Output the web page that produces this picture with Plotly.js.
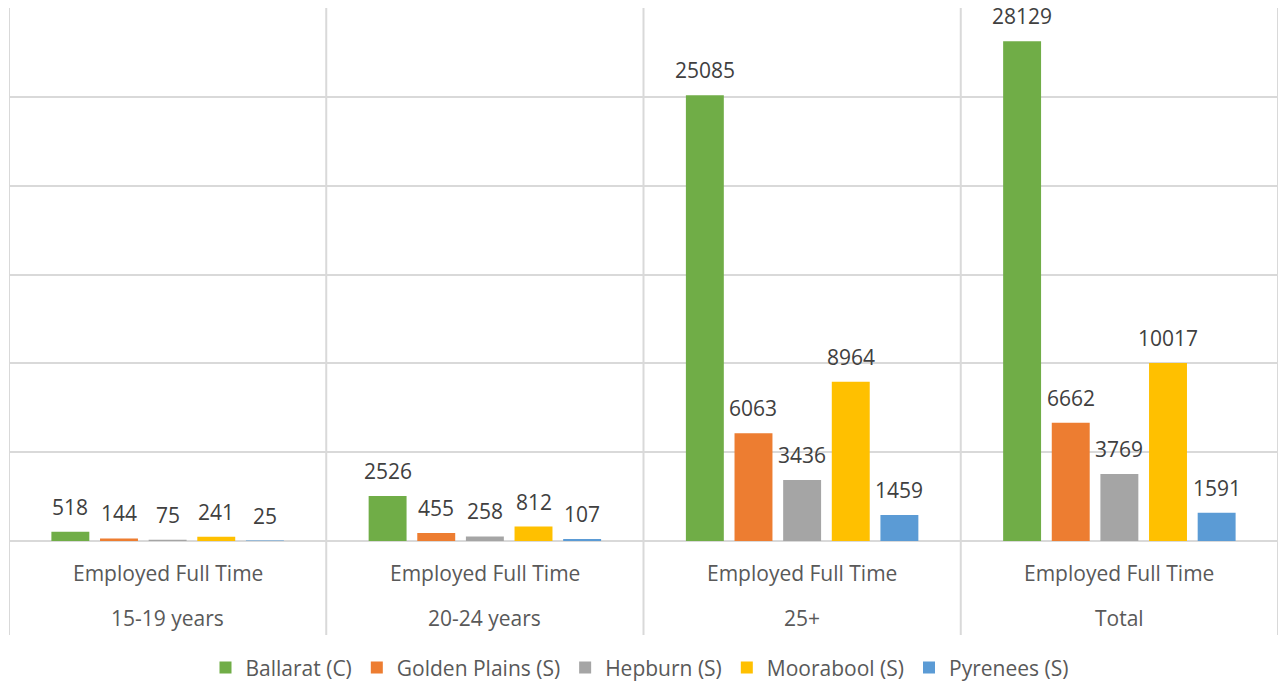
<!DOCTYPE html>
<html>
<head>
<meta charset="utf-8">
<script src="https://cdn.plot.ly/plotly-3.0.1.min.js"></script>
<style>html,body{margin:0;padding:0;background:#fff;}#chart{width:1279px;height:685px;}</style>
</head>
<body>
<div id="chart"></div>
<script>
const categories = ["15-19 years", "20-24 years", "25+", "Total"];
const topLabel = "Employed Full Time";
const seriesNames = ["Ballarat (C)", "Golden Plains (S)", "Hepburn (S)", "Moorabool (S)", "Pyrenees (S)"];
const ballarat = [518, 2526, 25085, 28129];
const goldenPlains = [144, 455, 6063, 6662];
const hepburn = [75, 258, 3436, 3769];
const moorabool = [241, 812, 8964, 10017];
const pyrenees = [25, 107, 1459, 1591];
const colors = ["#70AD47", "#ED7D31", "#A5A5A5", "#FFC000", "#5B9BD5"];

const values = [ballarat, goldenPlains, hepburn, moorabool, pyrenees];
const xIdx = categories.map((c, i) => i);
const font = "Open Sans, sans-serif";
const bargap = 0.2335;
const bargroupgap = 0.22;
const nSeries = values.length;
const slot = (1 - bargap) / nSeries;

const traces = values.map((v, k) => ({
  type: "bar",
  name: seriesNames[k],
  x: xIdx,
  y: v,
  marker: {color: colors[k]},
  hoverinfo: "name+y"
}));

const annotations = [];
values.forEach((v, k) => {
  v.forEach((val, i) => {
    annotations.push({x: i + (k - (nSeries - 1) / 2) * slot, xref: "x", y: val, yref: "y",
      text: String(val), showarrow: false, yanchor: "bottom", yshift: 9,
      font: {family: font, size: 21, color: "#404040"}});
  });
});
categories.forEach((c, i) => {
  annotations.push({x: i, xref: "x", y: -0.0600, yref: "paper", text: topLabel, showarrow: false,
    font: {family: font, size: 21, color: "#595959"}, yanchor: "middle"});
  annotations.push({x: i, xref: "x", y: -0.1445, yref: "paper", text: c, showarrow: false,
    font: {family: font, size: 21, color: "#595959"}, yanchor: "middle"});
});

const shapes = [];
for (let i = 0; i <= categories.length; i++) {
  shapes.push({type: "line", xref: "x", yref: "paper", x0: i - 0.5, x1: i - 0.5, y0: -0.1764, y1: 1,
    line: {color: "#D9D9D9", width: 2}});
}

const layout = {
  width: 1279, height: 685,
  margin: {l: 9, r: 1, t: 8, b: 144},
  paper_bgcolor: "#fff", plot_bgcolor: "#fff",
  barmode: "group",
  bargap: bargap,
  bargroupgap: bargroupgap,
  showlegend: true,
  legend: {orientation: "h", x: 0.5, xanchor: "center", xref: "container", y: 0.025, yref: "container", yanchor: "middle",
    font: {family: font, size: 21, color: "#595959"}, itemwidth: 30, traceorder: "normal"},
  xaxis: {type: "linear", range: [-0.5, 3.5], showticklabels: false, showgrid: false, zeroline: false, ticks: "", fixedrange: true, automargin: false},
  yaxis: {range: [0, 30000], dtick: 5000, showticklabels: false, showgrid: true, gridcolor: "#D9D9D9", gridwidth: 2,
    zeroline: true, zerolinecolor: "#D9D9D9", zerolinewidth: 2, ticks: "", fixedrange: true, automargin: false},
  annotations: annotations,
  shapes: shapes,
  font: {family: font}
};

Plotly.newPlot("chart", traces, layout, {displayModeBar: false, staticPlot: true});
</script>
</body>
</html>
